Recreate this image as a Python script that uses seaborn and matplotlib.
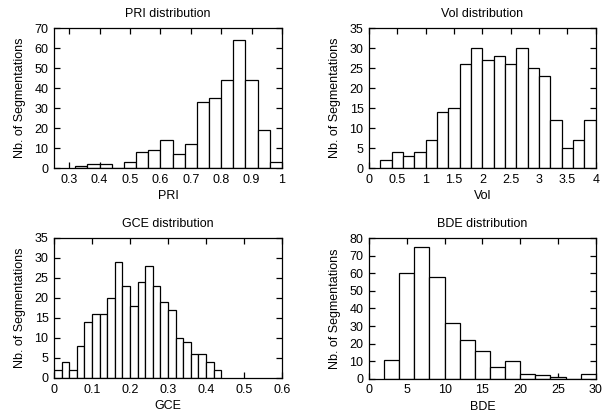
import matplotlib

matplotlib.use("Agg")

import matplotlib.pyplot as plt
import numpy as np
import pandas as pd
import seaborn as sns
from matplotlib.ticker import FuncFormatter, MultipleLocator

sns.set_theme(style="ticks")
plt.rcParams["font.family"] = ["Liberation Sans", "DejaVu Sans"]
plt.rcParams.update({"text.color": "black", "axes.labelcolor": "black",
                     "xtick.color": "black", "ytick.color": "black"})

# histogram counts, one value per bin
PRI_START, PRI_WIDTH = 0.32, 0.04
PRI_COUNTS = [1, 2, 2, 0, 3, 8, 9, 14, 7, 12, 33, 35, 44, 64, 44, 19, 3]

VOL_START, VOL_WIDTH = 0.2, 0.2
VOL_COUNTS = [2, 4, 3, 4, 7, 14, 15, 26, 30, 27, 28, 26, 30, 25, 23, 12, 5, 7, 12]

GCE_START, GCE_WIDTH = 0.0, 0.02
GCE_COUNTS = [2, 4, 2, 8, 14, 16, 16, 20, 29, 23, 18, 24, 28, 23, 19, 17, 10, 9, 6, 6, 4, 2]

BDE_START, BDE_WIDTH = 2, 2
BDE_COUNTS = [11, 60, 75, 58, 32, 22, 16, 7, 10, 3, 2, 1, 0, 3]

PANELS = [
    # name, start, width, counts, xlim, xstep, ylim, ystep, axes rect
    ("PRI", PRI_START, PRI_WIDTH, PRI_COUNTS, (0.25, 1.0), 0.1, 70, 10, [0.0896, 0.598, 0.378, 0.335]),
    ("Vol", VOL_START, VOL_WIDTH, VOL_COUNTS, (0, 4), 0.5, 35, 5, [0.612, 0.598, 0.376, 0.335]),
    ("GCE", GCE_START, GCE_WIDTH, GCE_COUNTS, (0, 0.6), 0.1, 35, 5, [0.0896, 0.0957, 0.378, 0.335]),
    ("BDE", BDE_START, BDE_WIDTH, BDE_COUNTS, (0, 30), 5, 80, 10, [0.612, 0.0935, 0.376, 0.337]),
]

fig = plt.figure(figsize=(6.03, 4.18), dpi=100)

for name, start, width, counts, xlim, xstep, ytop, ystep, rect in PANELS:
    ax = fig.add_axes(rect)
    n = len(counts)
    edges = [start + width * i for i in range(n + 1)]
    df = pd.DataFrame({"value": start + width * (np.arange(n) + 0.5), "count": counts})
    sns.histplot(
        data=df,
        x="value",
        weights="count",
        bins=edges,
        stat="count",
        color="white",
        edgecolor="black",
        linewidth=0.9,
        alpha=1.0,
        ax=ax,
    )
    ax.set_xlim(*xlim)
    ax.set_ylim(0, ytop)
    ax.xaxis.set_major_locator(MultipleLocator(xstep))
    ax.yaxis.set_major_locator(MultipleLocator(ystep))
    ax.xaxis.set_major_formatter(FuncFormatter(lambda v, p: f"{v:g}"))
    ax.yaxis.set_major_formatter(FuncFormatter(lambda v, p: f"{v:g}"))
    ax.tick_params(direction="in", top=True, right=True, length=4, width=0.9,
                   labelsize=9, pad=4, color="black", labelcolor="black")
    for sp in ax.spines.values():
        sp.set_visible(True)
        sp.set_linewidth(0.9)
        sp.set_color("black")
    ax.set_title(f"{name} distribution", fontsize=9, pad=8, color="black")
    ax.set_xlabel(name, fontsize=9, labelpad=3, color="black")
    ax.set_ylabel("Nb. of Segmentations", fontsize=9, labelpad=6, color="black")

fig.savefig("out.png", dpi=100)
